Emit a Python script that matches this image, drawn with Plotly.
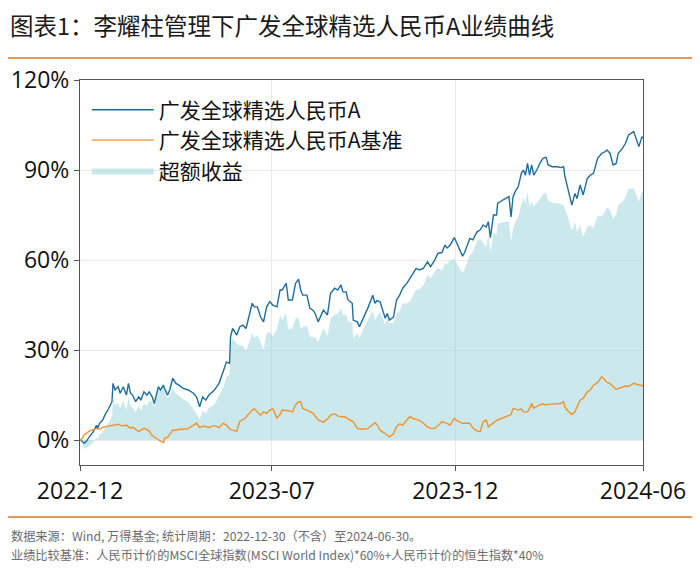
import pandas as pd
import plotly.graph_objects as go

# trading-day offsets from 2022-12-30
DAYS = [0, 1, 4, 6, 9, 13, 16, 17, 19, 22, 25, 28, 31, 32, 34, 37, 39, 42, 45, 47, 49, 51, 54, 57, 59,
        62, 65, 67, 70, 72, 76, 78, 81, 82, 85, 87, 90, 93, 96, 100, 105, 110, 113, 116, 119, 122, 125,
        130, 135, 139, 142, 145, 146, 148, 152, 155, 158, 161, 167, 169, 172, 175, 178, 181, 184, 187,
        191, 194, 196, 200, 202, 206, 209, 212, 214, 216, 220, 223, 226, 228, 231, 236, 240, 243, 247,
        250, 253, 255, 258, 260, 264, 265, 269, 271, 274, 279, 284, 286, 288, 291, 296, 298, 300, 304,
        307, 310, 313, 317, 320, 323, 326, 329, 333, 337, 340, 344, 347, 351, 354, 356, 359, 363, 366,
        371, 373, 378, 381, 385, 388, 391, 394, 396, 398, 401, 404, 405, 410, 416, 418, 420, 422, 425,
        428, 430, 432, 434, 436, 438, 440, 443, 446, 449, 452, 454, 458, 463, 466, 469, 470, 473, 477,
        480, 482, 485, 488, 492, 495, 498, 502, 506, 509, 511, 514, 517, 520, 522, 526, 529, 532, 537,
        542, 545, 546]

FUND = [0, 0, -1.1, -0.5, 1.1, 2.8, 5.0, 3.9, 5.6, 6.7, 8.9, 10.6, 12.8, 18.9, 16.7, 17.8, 15.6, 17.8,
        15.0, 18.9, 15.6, 15.0, 12.8, 14.4, 13.3, 16.1, 15.0, 16.1, 14.4, 12.2, 17.8, 16.7, 18.3, 17.2,
        15.0, 16.7, 20.6, 18.9, 18.3, 17.2, 16.7, 15.6, 14.4, 11.1, 14.4, 13.3, 15.0, 16.5, 19.0, 23.3,
        26.0, 25.6, 34.4, 37.2, 35.0, 37.8, 38.3, 37.2, 45.6, 44.4, 44.4, 41.1, 39.4, 44.4, 46.1, 45.0,
        44.4, 50.0, 50.0, 52.2, 46.7, 46.7, 52.2, 53.6, 50.0, 48.3, 48.3, 43.9, 43.3, 42.2, 39.4, 43.3,
        41.7, 48.9, 50.6, 50.0, 51.7, 49.4, 49.4, 46.7, 45.6, 40.0, 39.4, 37.8, 40.0, 43.9, 48.3, 45.6,
        46.5, 46.1, 40.6, 42.2, 40.0, 41.0, 46.7, 48.3, 50.6, 52.2, 53.9, 55.6, 57.2, 56.7, 57.2, 59.4,
        57.8, 60.0, 62.2, 62.5, 65.0, 64.0, 65.0, 67.5, 65.0, 61.3, 62.5, 67.2, 66.7, 69.4, 70.0, 71.7,
        71.0, 72.8, 67.5, 75.0, 75.0, 78.9, 80.0, 81.1, 74.4, 81.1, 82.8, 84.4, 88.9, 90.0, 88.3, 92.2,
        88.3, 91.7, 88.3, 90.0, 92.2, 93.9, 94.2, 91.7, 91.1, 91.1, 90.8, 91.1, 88.3, 84.4, 78.3, 82.2,
        80.5, 85.0, 81.7, 87.2, 88.3, 88.9, 93.9, 95.6, 96.0, 96.7, 95.6, 91.7, 92.2, 95.6, 97.2, 98.9,
        101.7, 102.8, 97.8, 101.1, 100.6]

BENCH = [0, 0, 1.7, 2.3, 3.0, 3.5, 3.9, 3.8, 3.6, 4.2, 4.5, 4.7, 4.9, 5.0, 5.0, 5.3, 5.0, 4.7, 5.0,
         4.4, 3.9, 4.3, 3.5, 2.8, 3.3, 3.9, 3.5, 3.0, 1.5, 1.0, 0.3, -0.3, -0.8, 0.6, 1.0, 1.8, 3.3,
         3.3, 3.6, 3.6, 3.8, 5.0, 5.6, 4.2, 4.6, 4.5, 4.2, 4.8, 4.2, 5.6, 5.0, 3.8, 3.5, 3.3, 2.9, 6.3,
         6.8, 7.6, 10.0, 10.4, 9.4, 8.3, 9.4, 8.9, 10.0, 10.5, 7.4, 8.5, 10.0, 10.0, 9.8, 9.4, 11.7,
         12.8, 12.8, 10.6, 10.1, 9.5, 8.9, 8.0, 6.7, 6.0, 7.0, 8.3, 8.8, 8.0, 7.8, 7.8, 7.6, 7.1, 6.5,
         6.1, 3.9, 3.8, 3.6, 3.8, 5.2, 5.8, 5.2, 3.3, 2.2, 1.5, 1.1, 2.0, 4.5, 5.4, 5.0, 6.7, 7.8, 7.2,
         7.0, 6.6, 5.6, 4.4, 3.9, 3.9, 4.8, 6.1, 5.8, 5.6, 5.0, 7.2, 6.4, 5.6, 5.6, 5.6, 4.0, 3.0, 2.8,
         6.1, 6.7, 4.4, 5.0, 5.9, 6.5, 6.7, 7.4, 8.1, 8.5, 10.6, 10.3, 10.0, 10.4, 9.4, 9.4, 9.4, 10.5,
         12.2, 10.6, 11.1, 11.8, 12.0, 11.7, 11.9, 12.0, 12.2, 12.2, 12.8, 11.2, 9.8, 8.5, 9.5, 11.1,
         13.3, 13.9, 16.1, 16.7, 18.3, 19.2, 21.1, 20.0, 19.2, 18.9, 18.0, 16.9, 17.2, 17.8, 18.0,
         17.9, 18.9, 18.4, 18.2, 17.8]

TICK_DATES = ["2022-12-30", "2023-07-04", "2023-12-29", "2024-06-28"]
TICK_TEXT = ["2022-12", "2023-07", "2023-12", "2024-06"]
Y_TICKS = [0, 30, 60, 90, 120]

NAMES = ["广发全球精选人民币A", "广发全球精选人民币A基准", "超额收益"]
TITLE = "图表1：李耀柱管理下广发全球精选人民币A业绩曲线"
NOTES = [
    "数据来源：Wind, 万得基金; 统计周期：2022-12-30（不含）至2024-06-30。",
    "业绩比较基准：人民币计价的MSCI全球指数(MSCI World Index)*60%+人民币计价的恒生指数*40%",
]

dates = pd.Timestamp("2022-12-30") + pd.to_timedelta(DAYS, unit="D")
excess = [f - b for f, b in zip(FUND, BENCH)]

FONT = "Open Sans, Noto Sans CJK SC"
CJK = "Noto Sans CJK SC"
ORANGE_RULE = "#e8975a"

fig = go.Figure()
fig.add_trace(go.Scatter(
    x=dates, y=excess, name=NAMES[2], mode="lines", fill="tozeroy",
    line=dict(width=0, color="rgba(160,215,220,0.55)"),
    fillcolor="rgba(160,215,220,0.55)", legendrank=3, legendgroup="c",
))
fig.add_trace(go.Scatter(
    x=dates, y=FUND, name=NAMES[0], mode="lines",
    line=dict(color="#1f6e9c", width=1.4), legendrank=1, legendgroup="a",
))
fig.add_trace(go.Scatter(
    x=dates, y=BENCH, name=NAMES[1], mode="lines",
    line=dict(color="#f0922e", width=1.4), legendrank=2, legendgroup="b",
))

# the page body adds an 8px offset; plot area sits at page px x 80..643, y 80..465
def px_x(p):
    return (p - 80) / 563


def px_y(p):
    return (465 - p) / 385


for yy in (58, 517):
    fig.add_shape(type="line", xref="paper", yref="paper",
                  x0=px_x(8), x1=px_x(692), y0=px_y(yy), y1=px_y(yy),
                  line=dict(color=ORANGE_RULE, width=2))

fig.add_annotation(text=TITLE, xref="paper", yref="paper", x=px_x(8), y=px_y(25),
                   xanchor="left", yanchor="middle", showarrow=False,
                   font=dict(family=CJK, size=23.5, color="#1a1a1a"))
for note, yy in zip(NOTES, (536, 554.5)):
    fig.add_annotation(text=note, xref="paper", yref="paper",
                       x=px_x(9), y=px_y(yy), xanchor="left", yanchor="middle",
                       showarrow=False,
                       font=dict(family=CJK, size=12.2, color="#6b6b6b"))

fig.update_layout(
    width=692, height=565,
    margin=dict(l=72, r=57, t=72, b=108),
    paper_bgcolor="white", plot_bgcolor="white",
    font=dict(family=FONT, color="#111111"),
    showlegend=True,
    legend=dict(x=0.012, y=0.975, xanchor="left", yanchor="top",
                font=dict(family=CJK, size=21, color="#111111"),
                bgcolor="rgba(0,0,0,0)", tracegroupgap=0, itemwidth=62),
    xaxis=dict(
        range=[dates[0], dates[-1]],
        tickvals=TICK_DATES, ticktext=TICK_TEXT,
        showgrid=True, gridcolor="#e9e9e9", gridwidth=1,
        showline=True, linecolor="#555555", linewidth=1.2, mirror=True,
        ticks="outside", ticklen=5, tickcolor="#555555",
        tickfont=dict(family=FONT, size=23, color="#111111"),
        zeroline=False, automargin=False,
    ),
    yaxis=dict(
        range=[-8.3, 120], tickvals=Y_TICKS, ticktext=[f"{v}%" for v in Y_TICKS],
        showgrid=True, gridcolor="#e9e9e9", gridwidth=1,
        showline=True, linecolor="#555555", linewidth=1.2, mirror=True,
        ticks="outside", ticklen=5, tickcolor="#555555",
        tickfont=dict(family=FONT, size=23, color="#111111"),
        zeroline=False, automargin=False,
    ),
)

fig.write_html("out.html")
